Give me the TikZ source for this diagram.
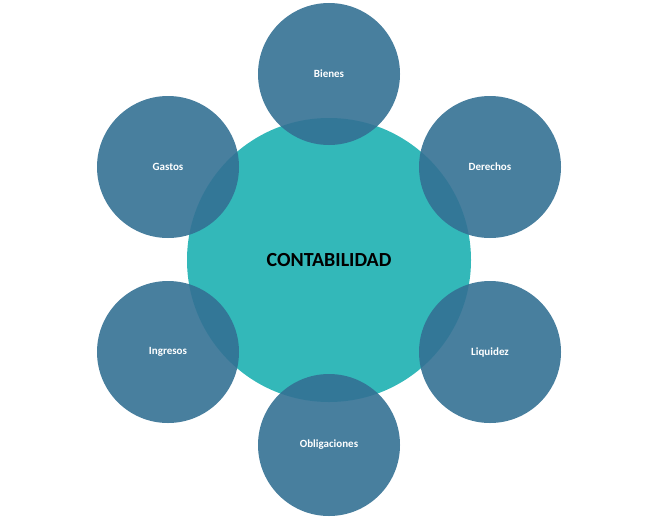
\documentclass[tikz,border=0pt]{standalone}
\usepackage{fontspec}
\setmainfont{Carlito}
\definecolor{core}{RGB}{51,184,185}
\definecolor{sat}{RGB}{52,113,148}
\begin{document}
\begin{tikzpicture}[x=1pt,y=-1pt,
  satnode/.style={circle,fill=sat,fill opacity=0.9,text opacity=1,minimum size=142pt,inner sep=0pt,text=white,font=\bfseries\fontsize{11}{13}\selectfont},
  corenode/.style={circle,fill=core,minimum size=284pt,inner sep=0pt,font=\bfseries\fontsize{20}{24}\selectfont}]
\useasboundingbox (0,0) rectangle (668,527);
\node[corenode] (c) at (329,260) {CONTABILIDAD};
\node[satnode] (b) at (329,74) {Bienes};
\node[satnode] (d) at (490,167) {Derechos};
\node[satnode] (l) at (490,352) {Liquidez};
\node[satnode] (o) at (329,445) {Obligaciones};
\node[satnode] (i) at (168,352) {Ingresos};
\node[satnode] (g) at (168,167) {Gastos};
\end{tikzpicture}
\end{document}
